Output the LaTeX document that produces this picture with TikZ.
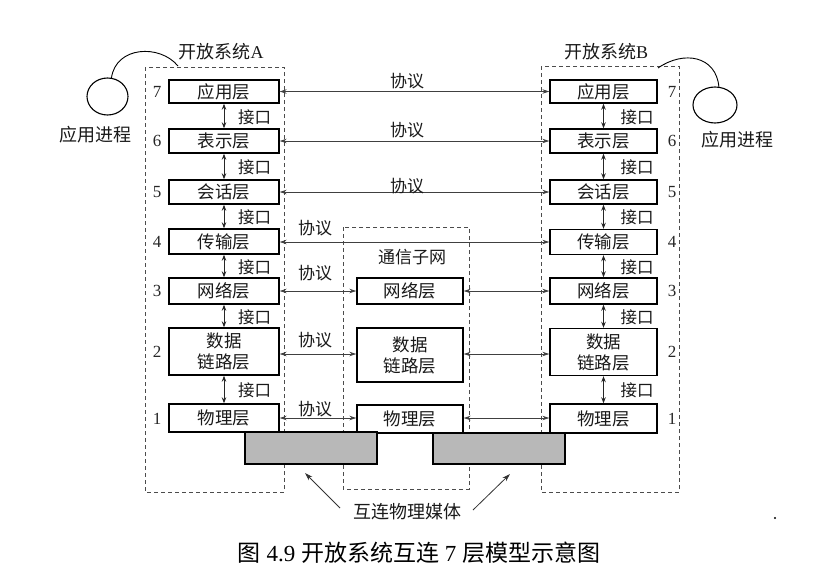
\documentclass[tikz,border=0pt]{standalone}
\usepackage{fontspec}
\setmainfont{Liberation Serif}
\newfontfamily\cjk{Noto Sans CJK SC}
\usetikzlibrary{arrows.meta,shapes.geometric,calc}
\begin{document}
\begin{tikzpicture}[x=1pt,y=-1pt,
  layerbox/.style={draw=black, line width=1.4pt, fill=white, inner sep=0pt,
    font=\cjk\fontsize{17.5}{21}\selectfont, align=center, text=black!90},
  grp/.style={draw=black!70, dash pattern=on 4pt off 3pt, line width=0.8pt},
  proto/.style={draw=black!75, line width=0.7pt,
    {Stealth[length=7pt,width=4.5pt]}-{Stealth[length=7pt,width=4.5pt]}},
  iface/.style={draw=black!85, line width=0.9pt,
    {Stealth[length=6pt,width=4.5pt]}-{Stealth[length=6pt,width=4.5pt]}},
  lbl/.style={font=\cjk\fontsize{17}{20}\selectfont, text=black!90, inner sep=1pt},
  iflbl/.style={font=\cjk\fontsize{16.5}{20}\selectfont, text=black!90, inner sep=1pt},
  ttl/.style={font=\cjk\fontsize{18}{20}\selectfont, text=black!90, inner sep=1pt},
  num/.style={font=\fontsize{17}{18}\selectfont, text=black!85, inner sep=0pt},
  media/.style={draw=black, line width=1.2pt, fill=black!28},
  proc/.style={draw=black, line width=1.1pt, ellipse, inner sep=0pt},
]
\useasboundingbox (0,0) rectangle (820,573);

% group boxes
\draw[grp] (145,67) rectangle (284,492);
\draw[grp] (343,227) rectangle (469,489);
\draw[grp] (541,66) rectangle (679,492);

% system A layers
\node[layerbox, minimum width=110pt, minimum height=23pt] (a7) at (224,91.5) {应用层};
\node[layerbox, minimum width=110pt, minimum height=24pt] (a6) at (224,141) {表示层};
\node[layerbox, minimum width=110pt, minimum height=24pt] (a5) at (224,192) {会话层};
\node[layerbox, minimum width=110pt, minimum height=25pt] (a4) at (224,241.5) {传输层};
\node[layerbox, minimum width=110pt, minimum height=26pt] (a3) at (224,291) {网络层};
\node[layerbox, minimum width=110pt, minimum height=47pt] (a2) at (224,351.5) {数据\\链路层};
\node[layerbox, minimum width=110pt, minimum height=28pt] (a1) at (224,418) {物理层};

% subnet layers
\node[layerbox, minimum width=106pt, minimum height=26pt] (m3) at (410,291) {网络层};
\node[layerbox, minimum width=106pt, minimum height=54pt] (m2) at (410,355) {数据\\链路层};
\node[layerbox, minimum width=106pt, minimum height=28pt] (m1) at (410,419) {物理层};

% system B layers
\node[layerbox, minimum width=107pt, minimum height=23pt] (b7) at (603.5,91.5) {应用层};
\node[layerbox, minimum width=107pt, minimum height=24pt] (b6) at (603.5,141) {表示层};
\node[layerbox, minimum width=107pt, minimum height=24pt] (b5) at (603.5,192) {会话层};
\node[layerbox, minimum width=107pt, minimum height=25pt] (b4) at (603.5,242) {传输层};
\node[layerbox, minimum width=107pt, minimum height=26pt] (b3) at (603.5,291) {网络层};
\node[layerbox, minimum width=107pt, minimum height=47pt] (b2) at (603.5,352) {数据\\链路层};
\node[layerbox, minimum width=107pt, minimum height=29pt] (b1) at (603.5,418.5) {物理层};

% physical media
\draw[media] (245,432) rectangle (377,464);
\draw[media] (433,433) rectangle (565,464);

% layer numbers
\foreach \n/\y in {7/91.5,6/141,5/192,4/242,3/291,2/352,1/419}{
  \node[num] (na\n) at (157,\y) {\n};
  \node[num] (nb\n) at (672,\y) {\n};
}

% interfaces
\foreach \u/\l in {a7/a6,a6/a5,a5/a4,a4/a3,a3/a2,a2/a1,b7/b6,b6/b5,b5/b4,b4/b3,b3/b2,b2/b1}{
  \draw[iface] (\u.south) -- (\l.north);
}
\foreach \u/\l in {a7/a6,a6/a5,a5/a4,a4/a3,a3/a2,a2/a1}{
  \node[iflbl, anchor=west] (if\u) at ($(\u.south)!0.5!(\l.north)+(13,1)$) {接口};
}
\foreach \u/\l in {b7/b6,b6/b5,b5/b4,b4/b3,b3/b2,b2/b1}{
  \node[iflbl, anchor=west] (if\u) at ($(\u.south)!0.5!(\l.north)+(16,1)$) {接口};
}

% protocols
\draw[proto] (a7.east) -- (b7.west);
\draw[proto] (a6.east) -- (b6.west);
\draw[proto] (a5.east) -- (b5.west);
\draw[proto] (a4.east |- 0,242) -- (b4.west |- 0,242);
\draw[proto] (a3.east) -- (m3.west);
\draw[proto] (m3.east) -- (b3.west);
\draw[proto] (a2.east |- 0,354) -- (m2.west |- 0,354);
\draw[proto] (m2.east |- 0,354) -- (b2.west |- 0,354);
\draw[proto] (a1.east) -- (m1.west |- a1.east);
\draw[proto] (m1.east |- a1.east) -- (b1.west |- a1.east);

\node[lbl] (p7) at (407,81) {协议};
\node[lbl] (p6) at (407,130) {协议};
\node[lbl] (p5) at (407,186) {协议};
\node[lbl] (p4) at (315,228) {协议};
\node[lbl] (p3) at (315,273) {协议};
\node[lbl] (p2) at (315,340) {协议};
\node[lbl] (p1) at (315,409) {协议};

% titles
\node[ttl] (sysA) at (221,52) {开放系统{\rmfamily A}};
\node[ttl] (sysB) at (606,52) {开放系统{\rmfamily B}};
\node[lbl] (subnet) at (412,257) {通信子网};

% application processes
\node[proc, minimum width=41pt, minimum height=37pt] (procA) at (107.5,96.5) {};
\node[proc, minimum width=44pt, minimum height=36pt] (procB) at (715,105) {};
\node[ttl] (tA) at (95,135) {应用进程};
\node[ttl] (tB) at (737,140) {应用进程};
\coordinate (cA) at (178,66);
\coordinate (cB) at (658,68);
\draw[line width=0.9pt] (procA.78) .. controls (116,46) and (160,44) .. (cA);
\draw[line width=0.9pt] (cB) .. controls (684,50) and (716,56) .. (procB.78);

% media label
\node[ttl] (mlab) at (407,512) {互连物理媒体};
\coordinate (tipL) at (305,473);
\coordinate (tipR) at (510,474);
\draw[line width=0.8pt, draw=black!80, -{Stealth[length=8pt,width=5pt]}] (340,508) -- (tipL);
\draw[line width=0.8pt, draw=black!80, -{Stealth[length=8pt,width=5pt]}] (473,510) -- (tipR);

% caption
\node[font=\fontsize{23}{26}\selectfont, inner sep=0pt] (cap) at (419,553)
  {{\cjk 图} 4.9 {\cjk 开放系统互连} 7 {\cjk 层模型示意图}};

\fill (775,518) circle (1.1pt);
\end{tikzpicture}
\end{document}
